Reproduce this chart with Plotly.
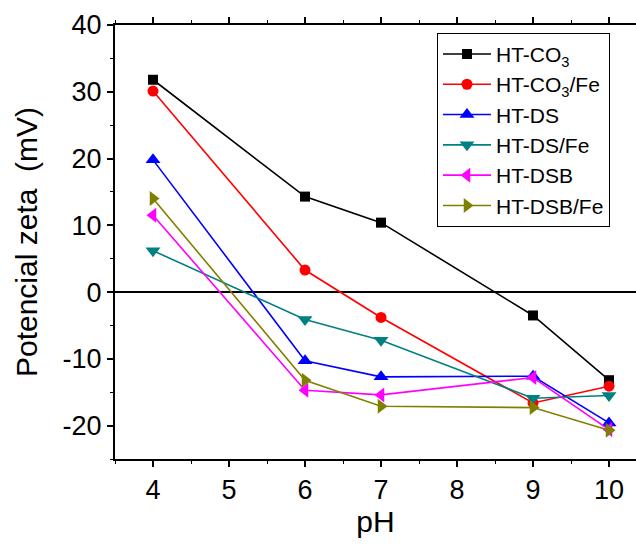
import plotly.graph_objects as go

ph = [4, 6, 7, 9, 10]

ht_co3 = [31.8, 14.3, 10.4, -3.5, -13.2]
ht_co3_fe = [30.1, 3.3, -3.8, -16.6, -14.1]
ht_ds = [19.8, -10.3, -12.7, -12.6, -19.6]
ht_ds_fe = [6.2, -4.1, -7.2, -15.9, -15.5]
ht_dsb = [11.5, -14.7, -15.4, -12.8, -20.6]
ht_dsb_fe = [14.0, -13.2, -17.1, -17.3, -20.7]

series_names = ["HT-CO<sub>3</sub>", "HT-CO<sub>3</sub>/Fe", "HT-DS",
                "HT-DS/Fe", "HT-DSB", "HT-DSB/Fe"]
series_values = [ht_co3, ht_co3_fe, ht_ds, ht_ds_fe, ht_dsb, ht_dsb_fe]
colors = ["#000000", "#ff0000", "#0000ff", "#008080", "#ff00ff", "#808000"]
symbols = ["square", "circle", "triangle-up", "triangle-down",
           "triangle-left", "triangle-right"]
sizes = [10, 11, 13, 13, 13, 13]

y_ticks = [-20, -10, 0, 10, 20, 30, 40]
y_tick_text = [str(v) for v in y_ticks]  # plain hyphen minus signs

FONT = "Liberation Sans, Arial, sans-serif"

fig = go.Figure()
for name, vals, col, sym, sz in zip(series_names, series_values, colors, symbols, sizes):
    fig.add_trace(go.Scatter(
        x=ph, y=vals, name=name, mode="lines+markers",
        line=dict(color=col, width=1.6),
        marker=dict(symbol=sym, size=sz, color=col, line=dict(width=0)),
    ))

axis_common = dict(
    showline=True, linecolor="black", linewidth=2,
    ticks="outside", tickcolor="black", tickwidth=1.5, ticklen=6,
    showgrid=False,
    tickfont=dict(family=FONT, size=27, color="black"),
    title_font=dict(family=FONT, size=30, color="black"),
)

fig.update_xaxes(
    range=[3.5, 10.355], dtick=1, tick0=4, mirror="ticks",
    zeroline=False,
    minor=dict(dtick=0.5, ticks="outside", ticklen=3, tickcolor="black", tickwidth=1.2),
    title_text="pH", title_standoff=0,
    **axis_common,
)
fig.update_yaxes(
    range=[-25, 40], tickmode="array", tickvals=y_ticks, ticktext=y_tick_text,
    zeroline=True, zerolinecolor="black", zerolinewidth=2,
    minor=dict(dtick=5, tick0=0, ticks="outside", ticklen=3, tickcolor="black", tickwidth=1.2),
    title_text="Potencial zeta\u00a0\u00a0(mV)", title_standoff=16,
    **axis_common,
)

fig.update_layout(
    width=636, height=545,
    margin=dict(l=115, r=0, t=25, b=86),
    plot_bgcolor="white", paper_bgcolor="white",
    showlegend=True,
    legend=dict(
        x=0.618, y=0.982, xanchor="left", yanchor="top",
        bordercolor="black", borderwidth=1, bgcolor="white",
        font=dict(family=FONT, size=21, color="black"),
        itemwidth=48, tracegroupgap=0,
    ),
)

fig.write_html("out.html")
